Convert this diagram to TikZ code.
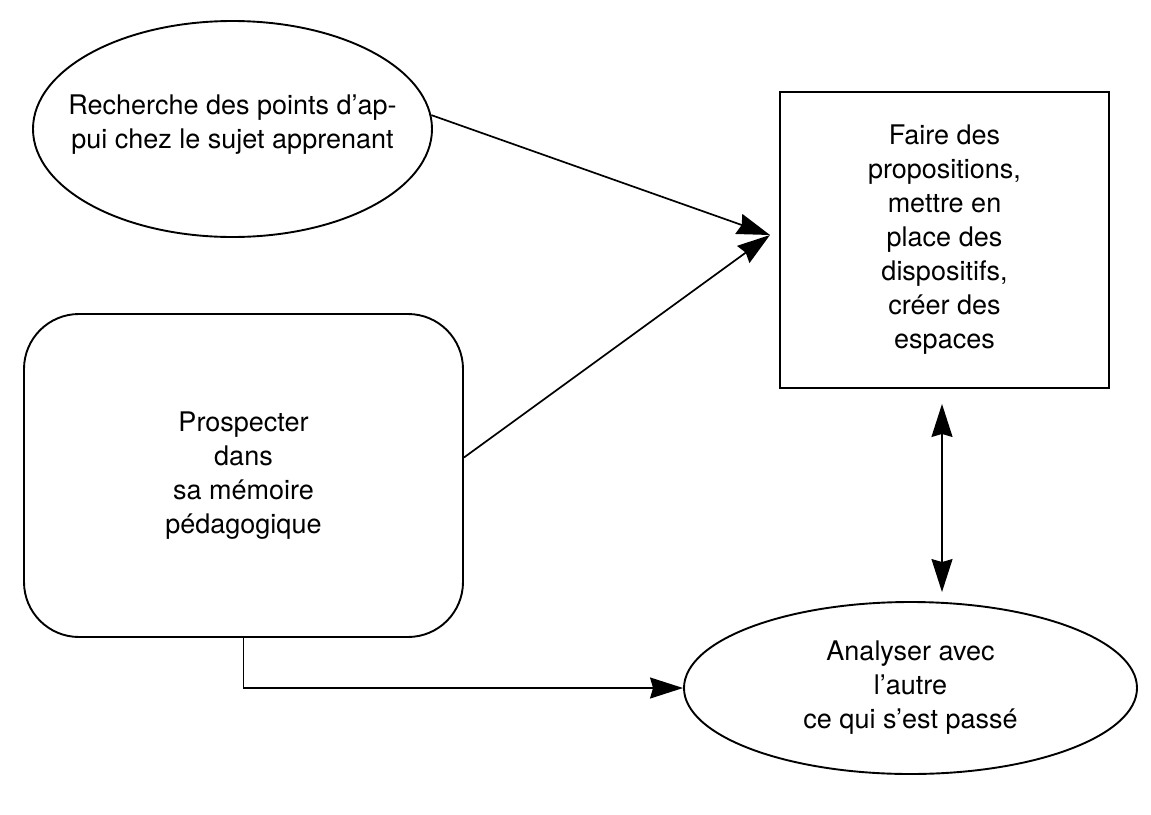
\documentclass[tikz,border=0pt]{standalone}
\usepackage{fontspec}
\setmainfont{TeX Gyre Heros}
\usetikzlibrary{arrows.meta,shapes.geometric}
\begin{document}
\begin{tikzpicture}[x=1pt,y=-1pt,
  shapeline/.style={draw, line width=1.9pt, inner sep=0pt},
  oval/.style={shapeline, ellipse},
  txt/.style={align=center, font=\fontsize{27}{34}\selectfont, inner sep=0pt},
  headtip/.tip={Stealth[length=33pt,width=21pt,inset=3pt]},
  conn/.style={line width=1.7pt, -headtip},
  dconn/.style={line width=1.7pt, headtip-headtip},
]
\path[use as bounding box, fill=white] (0,0) rectangle (1151,814);

\node[oval, minimum width=399pt, minimum height=216pt] (e1) at (232.5,129) {};
\node[txt] (t1) at ([yshift=4pt]e1.center) {Recherche des points d’ap-\\pui chez le sujet apprenant};

\node[shapeline, rectangle, minimum width=329pt, minimum height=296pt] (r1) at (944.5,240) {};
\node[txt] (t2) at (r1.center) {Faire des\\propositions,\\mettre en\\place des\\dispositifs,\\créer des\\espaces};

\node[shapeline, rectangle, rounded corners=55pt, minimum width=439pt, minimum height=323pt] (rr) at (243.5,475.5) {};
\node[txt] (t3) at (rr.center) {Prospecter\\dans\\sa mémoire\\pédagogique};

\node[oval, minimum width=453pt, minimum height=172pt] (e2) at (910.5,688) {};
\node[txt] (t4) at (e2.center) {Analyser avec\\l’autre\\ce qui s’est passé};

\coordinate (tip) at (770,235);
\draw[conn] (e1.4) -- (tip);
\draw[conn] ([yshift=18pt]rr.east) -- (tip);
\draw[dconn] ([xshift=-2.5pt,yshift=-15pt]r1.south) -- ([xshift=-2.5pt,yshift=9pt]r1.south |- e2.north);
\draw[conn] (rr.south) |- (e2.west);
\end{tikzpicture}
\end{document}
